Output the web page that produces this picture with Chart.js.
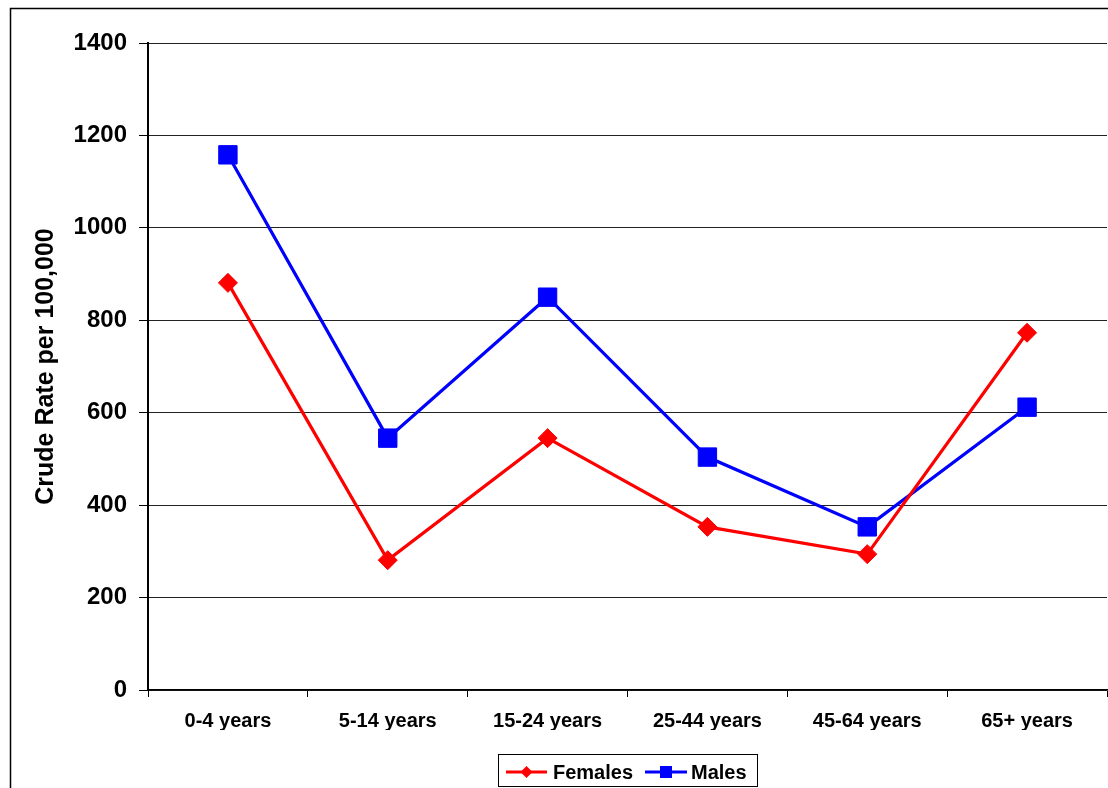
<!DOCTYPE html>
<html>
<head>
<meta charset="utf-8">
<script src="https://cdn.jsdelivr.net/npm/chart.js@4.4.1/dist/chart.umd.min.js"></script>
<style>
  html, body { margin: 0; padding: 0; background: #fff; overflow: hidden; width: 1108px; height: 788px; }
  #wrap { position: absolute; left: 0; top: 0; width: 1108px; height: 788px; overflow: hidden; }
</style>
</head>
<body>
<div id="wrap"><canvas id="chart" width="1121" height="788"></canvas></div>
<script>
// Crude rate per 100,000 by age group and sex
const ageGroups = ['0-4 years', '5-14 years', '15-24 years', '25-44 years', '45-64 years', '65+ years'];
const females = [881, 281, 545, 353, 294, 773];
const males = [1158, 545, 850, 504, 353, 612];
const yTicks = [0, 200, 400, 600, 800, 1000, 1200, 1400];
const yTitle = 'Crude Rate per 100,000';

const FONT = '"Liberation Sans", Arial, Helvetica, sans-serif';

// White page plus the outer chart frame
const framePlugin = {
  id: 'frame',
  beforeDraw(chart) {
    const ctx = chart.ctx;
    ctx.save();
    ctx.fillStyle = '#fff';
    ctx.fillRect(0, 0, chart.width, chart.height);
    ctx.strokeStyle = '#000';
    ctx.lineWidth = 1.5;
    ctx.strokeRect(10.5, 8.5, chart.width + 20, chart.height + 20);
    ctx.restore();
  }
};

// Boxed legend with line + marker swatches beneath the axis
const legendPlugin = {
  id: 'lineLegend',
  afterDraw(chart) {
    const ctx = chart.ctx;
    ctx.save();
    const box = { x: 498.5, y: 754.5, w: 259, h: 32 };
    ctx.fillStyle = '#fff';
    ctx.fillRect(box.x, box.y, box.w, box.h);
    ctx.strokeStyle = '#000';
    ctx.lineWidth = 1;
    ctx.strokeRect(box.x, box.y, box.w, box.h);
    const cy = 772;
    const items = [
      { ds: chart.data.datasets[0], x0: 506, x1: 547, tx: 553, shape: 'diamond' },
      { ds: chart.data.datasets[1], x0: 645, x1: 687, tx: 691, shape: 'square' }
    ];
    items.forEach(it => {
      ctx.strokeStyle = it.ds.borderColor;
      ctx.fillStyle = it.ds.borderColor;
      ctx.lineWidth = 3;
      ctx.beginPath();
      ctx.moveTo(it.x0, cy);
      ctx.lineTo(it.x1, cy);
      ctx.stroke();
      const mx = (it.x0 + it.x1) / 2;
      ctx.beginPath();
      if (it.shape === 'diamond') {
        ctx.moveTo(mx - 6, cy);
        ctx.lineTo(mx, cy - 6);
        ctx.lineTo(mx + 6, cy);
        ctx.lineTo(mx, cy + 6);
        ctx.closePath();
      } else {
        ctx.rect(mx - 6, cy - 6, 12, 12);
      }
      ctx.fill();
      ctx.fillStyle = '#000';
      ctx.font = 'bold 20px ' + FONT;
      ctx.textBaseline = 'alphabetic';
      ctx.textAlign = 'left';
      ctx.fillText(it.ds.label, it.tx, cy + 7);
    });
    ctx.restore();
  }
};

new Chart(document.getElementById('chart'), {
  type: 'line',
  data: {
    labels: ageGroups,
    datasets: [
      {
        label: 'Females',
        data: females,
        borderColor: '#ff0000',
        backgroundColor: '#ff0000',
        borderWidth: 3.2,
        pointStyle: 'rectRot',
        pointRadius: 9.5,
        pointHoverRadius: 9.5,
        pointBorderWidth: 1,
        tension: 0
      },
      {
        label: 'Males',
        data: males,
        borderColor: '#0000ff',
        backgroundColor: '#0000ff',
        borderWidth: 3.2,
        pointStyle: 'rect',
        pointRadius: 13,
        pointHoverRadius: 13,
        pointBorderWidth: 1,
        tension: 0
      }
    ]
  },
  options: {
    responsive: false,
    devicePixelRatio: 1,
    animation: false,
    events: [],
    layout: { padding: { top: 43, right: 0, bottom: 58, left: 0 } },
    plugins: {
      legend: { display: false },
      title: { display: false },
      tooltip: { enabled: false }
    },
    scales: {
      x: {
        offset: true,
        afterFit(scale) { scale.height = 40; },
        grid: {
          offset: true,
          drawOnChartArea: false,
          drawTicks: true,
          tickLength: 7,
          tickColor: '#000',
          tickWidth: 1
        },
        border: { color: '#000', width: 1.5 },
        ticks: {
          color: '#000',
          font: { family: FONT, size: 20, weight: 'bold' },
          padding: 12,
          maxRotation: 0
        }
      },
      y: {
        min: 0,
        max: 1400,
        afterFit(scale) { scale.width = 148; },
        afterBuildTicks(scale) { scale.ticks = yTicks.map(v => ({ value: v })); },
        grid: {
          color: '#222',
          lineWidth: 1,
          drawTicks: true,
          tickLength: 9,
          tickColor: '#000'
        },
        border: { color: '#000', width: 2 },
        ticks: {
          color: '#000',
          font: { family: FONT, size: 24, weight: 'bold' },
          padding: 12,
          callback: (v) => String(v)
        },
        title: {
          display: true,
          text: yTitle,
          color: '#000',
          font: { family: FONT, size: 25, weight: 'bold' },
          padding: { top: 31, bottom: 0 }
        }
      }
    }
  },
  plugins: [framePlugin, legendPlugin]
});
</script>
</body>
</html>
